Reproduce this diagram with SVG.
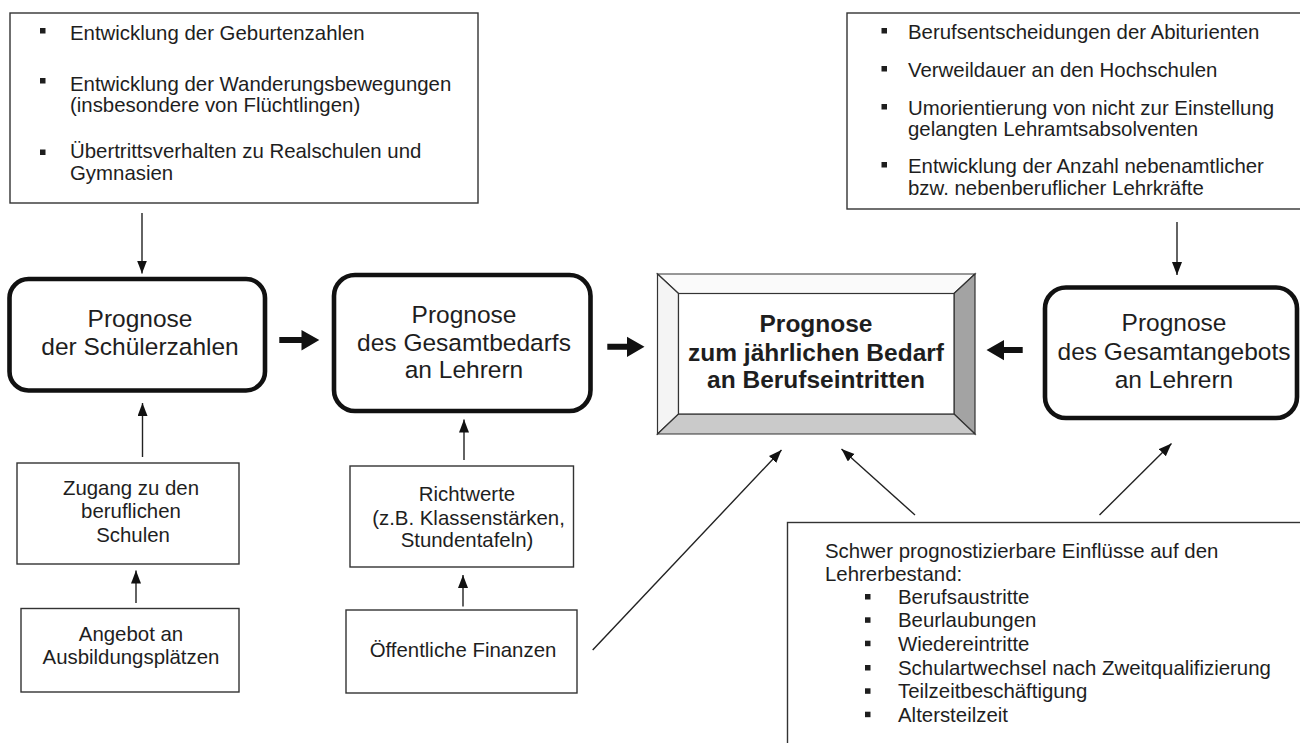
<svg xmlns="http://www.w3.org/2000/svg" width="1300" height="743" viewBox="0 0 1300 743">
<style>
text{font-family:"Liberation Sans",Arial,Helvetica,sans-serif;fill:#1e1e1e}
.t{font-size:20.4px}
.big{font-size:24.5px;text-anchor:middle}
.bold{font-size:24.5px;font-weight:bold;text-anchor:middle}
.c{text-anchor:middle}
.box{fill:#fff;stroke:#333;stroke-width:1.4}
.rbox{fill:#fff;stroke:#111;stroke-width:4.6}
.bul{fill:#1e1e1e}
.ln{stroke:#222;stroke-width:1.4;fill:none;marker-end:url(#ah)}
.thick{fill:#111}
</style>
<defs>
<marker id="ah" markerUnits="userSpaceOnUse" markerWidth="14" markerHeight="11" refX="13" refY="5" orient="auto">
<path d="M0,0 L13,5 L0,10 z" fill="#111"/>
</marker>
</defs>
<rect width="1300" height="743" fill="#fff"/>

<g id="top-left">
<rect class="box" x="10" y="13" width="468" height="190"/>
<rect class="bul" x="40" y="28" width="5.5" height="5.5"/>
<text class="t" x="70" y="39.5">Entwicklung der Geburtenzahlen</text>
<rect class="bul" x="40" y="78" width="5.5" height="5.5"/>
<text class="t" x="70" y="90.5">Entwicklung der Wanderungsbewegungen</text>
<text class="t" x="70" y="112">(insbesondere von Flüchtlingen)</text>
<rect class="bul" x="40" y="149.5" width="5.5" height="5.5"/>
<text class="t" x="70" y="157.5">Übertrittsverhalten zu Realschulen und</text>
<text class="t" x="70" y="180">Gymnasien</text>
</g>

<g id="top-right">
<rect class="box" x="847" y="13" width="460" height="196"/>
<rect class="bul" x="881.5" y="28" width="5.5" height="5.5"/>
<text class="t" x="908" y="39">Berufsentscheidungen der Abiturienten</text>
<rect class="bul" x="881.5" y="66" width="5.5" height="5.5"/>
<text class="t" x="908" y="77.3">Verweildauer an den Hochschulen</text>
<rect class="bul" x="881.5" y="104" width="5.5" height="5.5"/>
<text class="t" x="908" y="115">Umorientierung von nicht zur Einstellung</text>
<text class="t" x="908" y="136">gelangten Lehramtsabsolventen</text>
<rect class="bul" x="881.5" y="162" width="5.5" height="5.5"/>
<text class="t" x="908" y="173.3">Entwicklung der Anzahl nebenamtlicher</text>
<text class="t" x="908" y="195">bzw. nebenberuflicher Lehrkräfte</text>
</g>

<g id="schuelerzahlen">
<rect class="rbox" x="9.5" y="279" width="255.5" height="111.5" rx="19"/>
<text class="big" x="140" y="326.7">Prognose</text>
<text class="big" x="140" y="355">der Schülerzahlen</text>
</g>

<g id="gesamtbedarf">
<rect class="rbox" x="334" y="275" width="256.5" height="136" rx="21"/>
<text class="big" x="464" y="323.3">Prognose</text>
<text class="big" x="464" y="350.7">des Gesamtbedarfs</text>
<text class="big" x="464" y="378.3">an Lehrern</text>
</g>

<g id="berufseintritte">
<polygon points="657.5,274 975,274 954,293.5 678.5,293.5" fill="#fafafa" stroke="#333" stroke-width="1.2"/>
<polygon points="657.5,274 678.5,293.5 678.5,414 657.5,434" fill="#f4f4f4" stroke="#333" stroke-width="1.2"/>
<polygon points="975,274 975,434 954,414 954,293.5" fill="#a3a3a3" stroke="#333" stroke-width="1.2"/>
<polygon points="657.5,434 678.5,414 954,414 975,434" fill="#cacaca" stroke="#333" stroke-width="1.2"/>
<rect x="678.5" y="293.5" width="275.5" height="120.5" fill="#fff" stroke="#333" stroke-width="1.2"/>
<text class="bold" x="816" y="331.7">Prognose</text>
<text class="bold" x="816" y="361">zum jährlichen Bedarf</text>
<text class="bold" x="816" y="388.3">an Berufseintritten</text>
</g>

<g id="gesamtangebot">
<rect class="rbox" x="1045" y="287.5" width="252" height="130.5" rx="21"/>
<text class="big" x="1174" y="330.7">Prognose</text>
<text class="big" x="1174" y="360">des Gesamtangebots</text>
<text class="big" x="1174" y="387.7">an Lehrern</text>
</g>

<g id="zugang">
<rect class="box" x="17" y="463" width="222" height="101"/>
<text class="t c" x="131" y="495">Zugang zu den</text>
<text class="t c" x="131" y="518">beruflichen</text>
<text class="t c" x="133" y="542">Schulen</text>
</g>

<g id="angebot">
<rect class="box" x="21" y="608.5" width="218" height="83.5"/>
<text class="t c" x="131" y="641">Angebot an</text>
<text class="t c" x="131" y="664.3">Ausbildungsplätzen</text>
</g>

<g id="richtwerte">
<rect class="box" x="350" y="466" width="223.5" height="101"/>
<text class="t c" x="467" y="500.7">Richtwerte</text>
<text class="t c" x="468.5" y="525">(z.B. Klassenstärken,</text>
<text class="t c" x="467" y="547.3">Stundentafeln)</text>
</g>

<g id="finanzen">
<rect class="box" x="346" y="610" width="231" height="83"/>
<text class="t c" x="463" y="656.7">Öffentliche Finanzen</text>
</g>

<g id="einfluesse">
<rect class="box" x="787.5" y="522.5" width="530" height="240"/>
<text class="t" x="825" y="558.3">Schwer prognostizierbare Einflüsse auf den</text>
<text class="t" x="825" y="580.7">Lehrerbestand:</text>
<rect class="bul" x="865" y="594" width="5.5" height="5.5"/>
<text class="t" x="898" y="604">Berufsaustritte</text>
<rect class="bul" x="865" y="617.3" width="5.5" height="5.5"/>
<text class="t" x="898" y="627.3">Beurlaubungen</text>
<rect class="bul" x="865" y="640.7" width="5.5" height="5.5"/>
<text class="t" x="898" y="650.7">Wiedereintritte</text>
<rect class="bul" x="865" y="665" width="5.5" height="5.5"/>
<text class="t" x="898" y="675">Schulartwechsel nach Zweitqualifizierung</text>
<rect class="bul" x="865" y="688.3" width="5.5" height="5.5"/>
<text class="t" x="898" y="698.3">Teilzeitbeschäftigung</text>
<rect class="bul" x="865" y="711.7" width="5.5" height="5.5"/>
<text class="t" x="898" y="721.7">Altersteilzeit</text>
</g>

<g id="connectors">
<line class="ln" x1="142" y1="213" x2="142" y2="273.5"/>
<line class="ln" x1="142.5" y1="457" x2="142.5" y2="403"/>
<line class="ln" x1="136" y1="603" x2="136" y2="570.5"/>
<line class="ln" x1="464" y1="460" x2="464" y2="419.5"/>
<line class="ln" x1="463" y1="606.5" x2="463" y2="575"/>
<line class="ln" x1="1177" y1="222" x2="1177" y2="275"/>
<line class="ln" x1="592.7" y1="650" x2="781.5" y2="450"/>
<line class="ln" x1="915" y1="515" x2="841.5" y2="449"/>
<line class="ln" x1="1099.5" y1="515" x2="1171.5" y2="443.5"/>
<polygon class="thick" points="279.3,337 301.5,337 301.5,330 319.3,340 301.5,350.5 301.5,343 279.3,343"/>
<polygon class="thick" points="607.3,343.7 627,343.7 627,336.7 644.5,346.7 627,357 627,349.7 607.3,349.7"/>
<polygon class="thick" points="1022.7,347 1004,347 1004,340 986.5,350 1004,360.3 1004,353 1022.7,353"/>
</g>
</svg>
